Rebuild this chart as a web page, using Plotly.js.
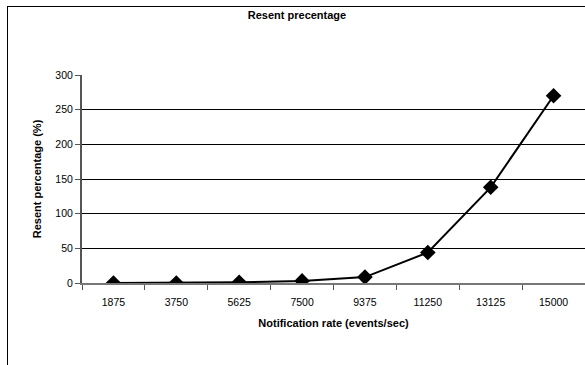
<!DOCTYPE html>
<html>
<head>
<meta charset="utf-8">
<script src="https://cdn.plot.ly/plotly-3.0.1.min.js"></script>
<style>
  html, body { margin: 0; padding: 0; background: #fff; }
  #wrap { position: relative; width: 585px; height: 365px; overflow: hidden; }
  #frame { position: absolute; left: 7px; top: 6px; width: 700px; height: 500px; border: 1px solid #000; box-sizing: border-box; pointer-events: none; }
  #chart { position: absolute; left: 0; top: 0; width: 585px; height: 365px; }
</style>
</head>
<body>
<div id="wrap">
  <div id="chart"></div>
  <div id="frame"></div>
</div>
<script>
const categories = ["1875", "3750", "5625", "7500", "9375", "11250", "13125", "15000"];
const resentPct = [0, 0, 1, 3, 8.5, 44, 138, 270];
const yTicks = [0, 50, 100, 150, 200, 250, 300];

const font = "Liberation Sans, Arial, sans-serif";
const tickSize = 10.5;
const titleSize = 11;

const trace = {
  x: categories,
  y: resentPct,
  type: "scatter",
  mode: "lines+markers",
  line: { color: "#000", width: 2 },
  marker: { symbol: "diamond", size: 12, color: "#000" },
  showlegend: false
};

const layout = {
  width: 585,
  height: 365,
  margin: { l: 82, r: 0, t: 75, b: 82 },
  paper_bgcolor: "#fff",
  plot_bgcolor: "#fff",
  font: { family: font, size: tickSize, color: "#000" },
  title: {
    text: "<b>Resent precentage</b>",
    font: { family: font, size: titleSize, color: "#000" },
    xref: "container", yref: "container",
    x: 297 / 585, y: 1 - 15 / 365, xanchor: "center", yanchor: "middle"
  },
  xaxis: {
    type: "category",
    range: [-0.5, 7.5],
    tickson: "boundaries",
    ticks: "outside",
    ticklen: 5,
    tickcolor: "#555",
    ticklabelstandoff: 8,
    showline: true,
    linecolor: "#777",
    linewidth: 2,
    showgrid: false,
    zeroline: false,
    tickfont: { family: font, size: tickSize, color: "#000" },
    title: { text: "<b>Notification rate (events/sec)</b>", font: { family: font, size: titleSize, color: "#000" }, standoff: 13 },
    automargin: false,
    fixedrange: true
  },
  yaxis: {
    range: [0, 300],
    tickvals: yTicks,
    ticks: "outside",
    ticklen: 5,
    tickcolor: "#555",
    showline: true,
    linecolor: "#555",
    linewidth: 2,
    showgrid: true,
    gridcolor: "#000",
    gridwidth: 1,
    zeroline: false,
    tickfont: { family: font, size: tickSize, color: "#000" },
    title: { text: "<b>Resent percentage (%)</b>", font: { family: font, size: titleSize, color: "#000" }, standoff: 12 },
    automargin: false,
    fixedrange: true
  }
};

Plotly.newPlot("chart", [trace], layout, { displayModeBar: false, staticPlot: true });
</script>
</body>
</html>
